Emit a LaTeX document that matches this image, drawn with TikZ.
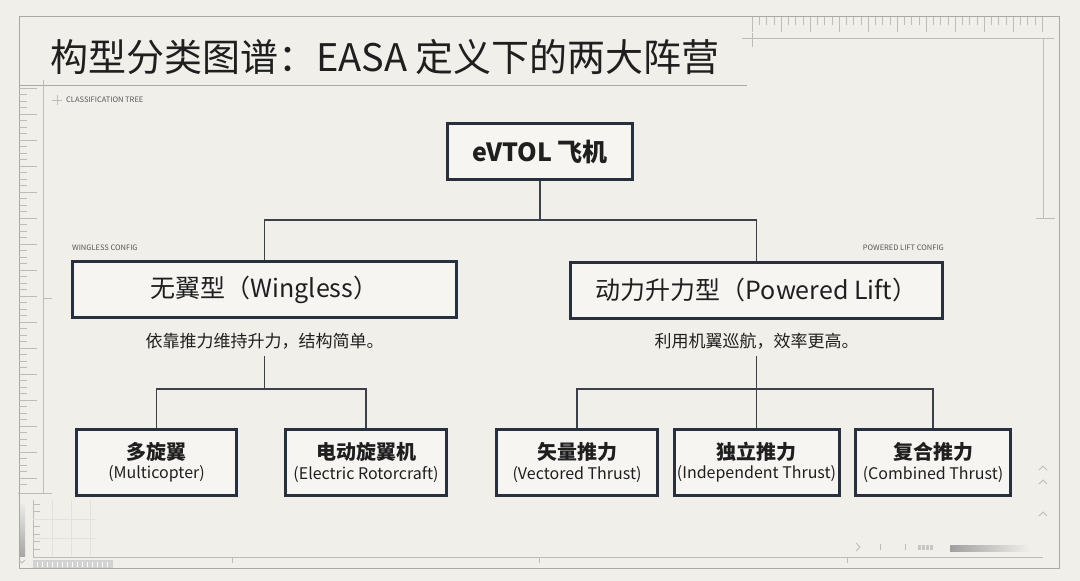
\documentclass[tikz,border=0pt]{standalone}
\usepackage{fontspec}
\setmainfont{Noto Sans CJK SC}
\usetikzlibrary{calc}
\definecolor{bg}{HTML}{F1EFEA}
\definecolor{boxfill}{HTML}{F6F5F2}
\definecolor{navy}{HTML}{283040}
\definecolor{conncol}{HTML}{3B404B}
\definecolor{ink}{HTML}{1F1F1F}
\definecolor{deco}{HTML}{BDBDB8}
\definecolor{framecol}{HTML}{A8A8A4}
\definecolor{smallcol}{HTML}{555555}
\newcommand{\leaftext}[2]{{\fontsize{20}{23}\selectfont\bfseries #1}\\[3pt]{\fontsize{16}{23}\selectfont #2}}
\begin{document}
\begin{tikzpicture}[x=1pt,y=-1pt,
  box/.style={draw=navy, line width=3pt, fill=boxfill, inner sep=0pt, text=ink, align=center},
  rootbox/.style={box, minimum width=185pt, minimum height=56pt, font=\fontsize{25}{28}\selectfont\bfseries},
  midbox/.style={box, minimum height=56pt, font=\fontsize{25}{28}\selectfont},
  leafbox/.style={box, minimum height=66pt},
  connline/.style={draw=conncol, line width=1.5pt},
  capt/.style={text=ink, font=\fontsize{17}{20}\selectfont, inner xsep=0pt, inner ysep=7pt},
  tagtext/.style={text=smallcol, font=\fontsize{7.5}{9}\selectfont, inner sep=0pt},
  decoline/.style={draw=deco, line width=0.8pt},
  thintick/.style={draw=deco, line width=0.5pt}]
% background and frame
\fill[bg] (0,0) rectangle (1080,581);
\useasboundingbox (0,0) rectangle (1080,581);
\draw[draw=framecol, line width=1pt] (19,16) rectangle (1059,568);

% title
\node[anchor=west, font=\fontsize{38}{44}\selectfont, text=ink, inner sep=0pt] (title) at (50,57) {构型分类图谱：EASA 定义下的两大阵营};
\draw[draw=framecol, line width=0.8pt] (19,85) -- (747,85);

% left ruler
\draw[decoline] (43,80) -- (43,493);
\draw[decoline] (18,493) -- (52,493);
\draw[decoline] (43,298) -- (52,298);
\foreach \y in {88,94.5,...,490} \draw[thintick] (19,\y) -- (27,\y);
\foreach \y in {88,114,...,490} \draw[thintick] (19,\y) -- (37,\y);

% top-right ruler
\foreach \x in {752,759.25,...,1044} \draw[thintick] (\x,17) -- (\x,25);
\foreach \x in {752,781,...,1044} \draw[thintick] (\x,17) -- (\x,32);
\draw[decoline] (742,38) -- (1054,38);
\draw[decoline] (752,33) -- (752,47);
\draw[decoline] (1043,38) -- (1043,218);
\draw[decoline] (1036,218) -- (1055,218);

% bottom decorations
\draw[decoline] (33,557) -- (1043,557);
\foreach \x in {232,539,847} \draw[thintick] (\x,557) -- (\x,563);
\shade[top color=deco!30, bottom color=gray!70] (20,503) rectangle (25,556);
\draw[decoline] (33,500) -- (33,557);
\foreach \y in {504,511.5,...,556} \draw[thintick] (33,\y) -- (40,\y);
\foreach \x in {52,71,90} \draw[draw=deco!45, line width=0.4pt] (\x,500) -- (\x,556);
\foreach \y in {519,538} \draw[draw=deco!45, line width=0.4pt] (33,\y) -- (95,\y);
\fill[gray!35] (33,560) rectangle (113,568);
\foreach \x in {37,42,...,110} \draw[white, line width=0.6pt] (\x,561.5) -- (\x,566.5);
\draw[thintick, line width=0.8pt] (19,560) -- (22,563) -- (25,560);
\draw[thintick, line width=0.8pt] (856,543) -- (860,547) -- (856,551);
\draw[thintick] (880,544) -- (880,550);
\draw[thintick] (905,544) -- (905,550);
\foreach \x in {918,922,926,930} \fill[gray!45] (\x,545) rectangle ++(2.5,5);
\shade[left color=gray!75, right color=bg] (950,545) rectangle (1030,551);
\draw[thintick, line width=0.8pt] (1039,470) -- (1043,466) -- (1047,470);
\draw[decoline] (1039,484) -- (1043,480) -- (1047,484);
\draw[decoline] (1039,516) -- (1043,512) -- (1047,516);

% small tags
\draw[thintick] (52,100) -- (62,100);
\draw[thintick] (57,95) -- (57,105);
\node[tagtext, anchor=west] (tagtree) at (66,100) {CLASSIFICATION TREE};
\node[tagtext, anchor=west] (tagwl) at (72,248) {WINGLESS CONFIG};
\node[tagtext, anchor=east] (tagpl) at (944,248) {POWERED LIFT CONFIG};

% nodes
\node[rootbox] (root) at (540,151.5) {eVTOL 飞机};
\node[midbox, minimum width=384pt] (wl) at (264.5,289.5) {无翼型（Wingless）};
\node[midbox, minimum width=372pt] (pl) at (756.5,290) {动力升力型（Powered Lift）};
\node[capt] (wlc) at (264.5,341) {依靠推力维持升力，结构简单。};
\node[capt] (plc) at (756.5,341) {利用机翼巡航，效率更高。};

\node[leafbox, minimum width=160pt] (mc) at (156.5,462.5) {\leaftext{多旋翼}{(Multicopter)}};
\node[leafbox, minimum width=161pt] (er) at (366,462.5) {\leaftext{电动旋翼机}{(Electric Rotorcraft)}};
\node[leafbox, minimum width=161pt] (vt) at (577,462.5) {\leaftext{矢量推力}{(Vectored Thrust)}};
\node[leafbox, minimum width=165pt] (it) at (756.5,462.5) {\leaftext{独立推力}{(Independent Thrust)}};
\node[leafbox, minimum width=155pt] (ct) at (933,462.5) {\leaftext{复合推力}{(Combined Thrust)}};

% connectors
\coordinate (j1) at (540,220);
\coordinate (j2) at (264.5,389);
\coordinate (j3) at (756.5,389);
\draw[connline] (root.south) -- (j1);
\draw[connline] (wl.north) |- (j1) -| (pl.north);
\draw[connline] (wlc.south) -- (j2);
\draw[connline] (mc.north) |- (j2) -| (er.north);
\draw[connline] (plc.south) -- (j3);
\draw[connline] (vt.north) |- (j3) -| (ct.north);
\draw[connline] (j3) -- (it.north);
\end{tikzpicture}
\end{document}
